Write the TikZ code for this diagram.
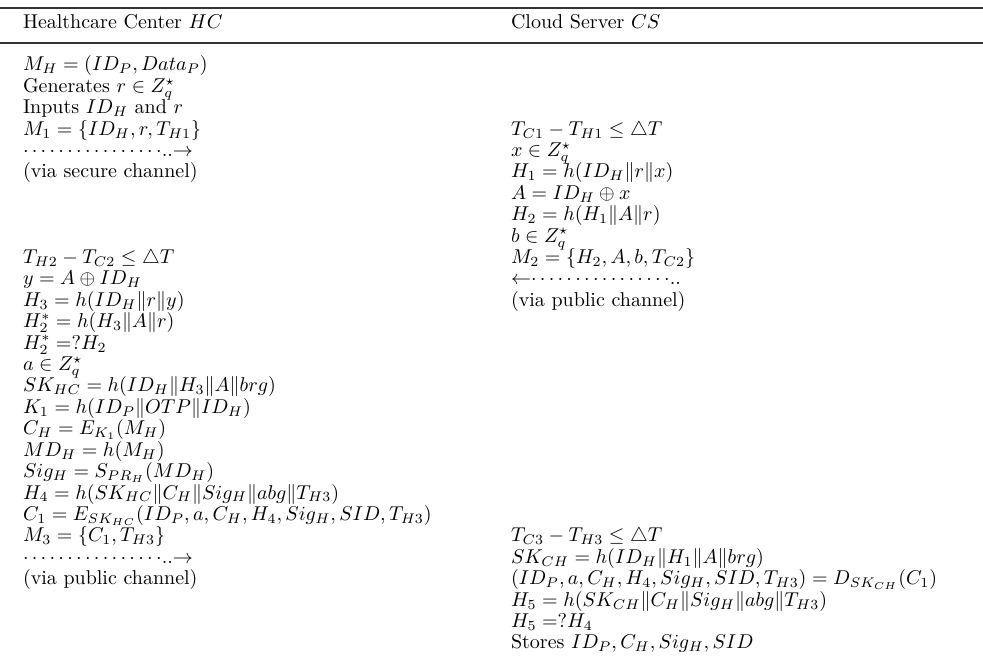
\documentclass[tikz,border=0pt]{standalone}
\usepackage{amsmath,amssymb}
\tikzset{
  txt/.style={anchor=base west, inner sep=0pt, outer sep=0pt, font=\fontsize{10}{12}\selectfont},
  toprl/.style={line width=0.8pt, draw=black!80},
  midrl/.style={line width=0.6pt, draw=black!80}
}
\newcommand\Lrow[3]{\node[txt] (#1) at (23,{71+21.4*#2}) {#3};}
\newcommand\Rrow[3]{\node[txt] (#1) at (511,{71+21.4*#2}) {#3};}
\newcommand\dotsR{${\cdots\cdots\cdots\cdots\cdots\cdotp}..{\rightarrow}$}
\newcommand\dotsL{${\leftarrow}{\cdots\cdots\cdots\cdots\cdots\cdotp}..$}
\begin{document}
\begin{tikzpicture}[x=0.5pt,y=-0.5pt]
\useasboundingbox (0,0) rectangle (983,656);
\coordinate (tl) at (0,8); \coordinate (tr) at (983,8);
\coordinate (ml) at (0,43); \coordinate (mr) at (983,43);
\draw[toprl] (tl) -- (tr);
\draw[midrl] (ml) -- (mr);
\node[txt] (hl) at (23,29) {Healthcare Center $HC$};
\node[txt] (hr) at (511,29) {Cloud Server $CS$};
% left column
\Lrow{l0}{0}{$M_H = (ID_P, Data_P)$}
\Lrow{l1}{1}{Generates $r \in Z_q^\star$}
\Lrow{l2}{2}{Inputs $ID_H$ and $r$}
\Lrow{l3}{3}{$M_1 = \{ID_H, r, T_{H1}\}$}
\Lrow{l4}{4}{\dotsR}
\Lrow{l5}{5}{(via secure channel)}
\Lrow{l9}{9}{$T_{H2} - T_{C2} \leq \triangle T$}
\Lrow{l10}{10}{$y = A \oplus ID_H$}
\Lrow{l11}{11}{$H_3 = h(ID_H\|r\|y)$}
\Lrow{l12}{12}{$H_2^* = h(H_3\|A\|r)$}
\Lrow{l13}{13}{$H_2^* =?H_2$}
\Lrow{l14}{14}{$a \in Z_q^\star$}
\Lrow{l15}{15}{$SK_{HC} = h(ID_H\|H_3\|A\|brg)$}
\Lrow{l16}{16}{$K_1 = h(ID_P\|OTP\|ID_H)$}
\Lrow{l17}{17}{$C_H = E_{K_1}(M_H)$}
\Lrow{l18}{18}{$MD_H = h(M_H)$}
\Lrow{l19}{19}{$Sig_H = S_{PR_H}(MD_H)$}
\Lrow{l20}{20}{$H_4 = h(SK_{HC}\|C_H\|Sig_H\|abg\|T_{H3})$}
\Lrow{l21}{21}{$C_1 = E_{SK_{HC}}(ID_P, a, C_H, H_4, Sig_H, SID, T_{H3})$}
\Lrow{l22}{22}{$M_3 = \{C_1, T_{H3}\}$}
\Lrow{l23}{23}{\dotsR}
\Lrow{l24}{24}{(via public channel)}
% right column
\Rrow{r3}{3}{$T_{C1} - T_{H1} \leq \triangle T$}
\Rrow{r4}{4}{$x \in Z_q^\star$}
\Rrow{r5}{5}{$H_1 = h(ID_H\|r\|x)$}
\Rrow{r6}{6}{$A = ID_H \oplus x$}
\Rrow{r7}{7}{$H_2 = h(H_1\|A\|r)$}
\Rrow{r8}{8}{$b \in Z_q^\star$}
\Rrow{r9}{9}{$M_2 = \{H_2, A, b, T_{C2}\}$}
\Rrow{r10}{10}{\dotsL}
\Rrow{r11}{11}{(via public channel)}
\Rrow{r22}{22}{$T_{C3} - T_{H3} \leq \triangle T$}
\Rrow{r23}{23}{$SK_{CH} = h(ID_H\|H_1\|A\|brg)$}
\Rrow{r24}{24}{$(ID_P, a, C_H, H_4, Sig_H, SID, T_{H3}) = D_{SK_{CH}}(C_1)$}
\Rrow{r25}{25}{$H_5 = h(SK_{CH}\|C_H\|Sig_H\|abg\|T_{H3})$}
\Rrow{r26}{26}{$H_5 =?H_4$}
\Rrow{r27}{27}{Stores $ID_P, C_H, Sig_H, SID$}
\end{tikzpicture}
\end{document}
